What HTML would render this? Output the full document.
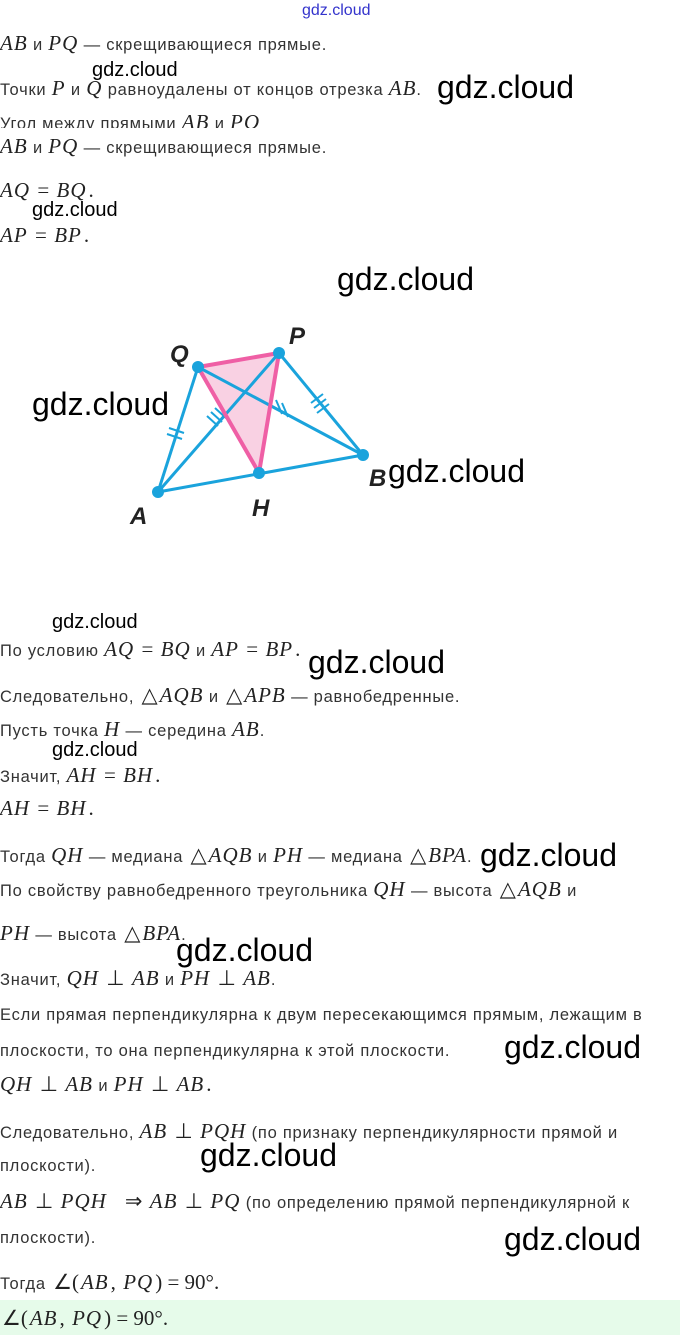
<!DOCTYPE html>
<html><head><meta charset="utf-8"><style>
body{margin:0;width:680px;height:1335px;background:#fff;position:relative;overflow:hidden;font-family:"Liberation Sans",sans-serif;color:#333;}
.l{position:absolute;left:0;font-size:16.5px;letter-spacing:0.75px;white-space:nowrap;line-height:20px;}
.m{font-family:"Liberation Serif",serif;font-style:italic;font-size:21px;color:#222;letter-spacing:1px;}
.n{font-family:"Liberation Serif",serif;font-size:21px;color:#222;letter-spacing:0;margin:0 2px;}
.w{position:absolute;color:#000;font-family:"Liberation Sans",sans-serif;white-space:nowrap;line-height:1;}
.ws{font-size:20px;}
.wb{font-size:32px;}
</style></head><body>
<div class="w" style="left:302px;top:3px;font-size:16px;color:#3333cc;">gdz.cloud</div>
<div class="l" style="top:33px"><span class="m">AB</span> и <span class="m">PQ</span> — скрещивающиеся прямые.</div>
<div class="w ws" style="left:92px;top:60px">gdz.cloud</div>
<div class="l" style="top:78px">Точки <span class="m">P</span> и <span class="m">Q</span> равноудалены от концов отрезка <span class="m">AB</span>.</div>
<div class="w wb" style="left:437px;top:71px">gdz.cloud</div>
<div style="position:absolute;top:110px;left:0;height:18px;overflow:hidden;"><div class="l" style="position:relative;top:2px">Угол между прямыми <span class="m">AB</span> и <span class="m">PQ</span></div></div>
<div class="l" style="top:136px"><span class="m">AB</span> и <span class="m">PQ</span> — скрещивающиеся прямые.</div>
<div class="l" style="top:180px"><span class="m">AQ</span> <span class="n">=</span> <span class="m">BQ</span><span class="n">.</span></div>
<div class="w ws" style="left:32px;top:200px">gdz.cloud</div>
<div class="l" style="top:225px"><span class="m">AP</span> <span class="n">=</span> <span class="m">BP</span><span class="n">.</span></div>
<div class="w wb" style="left:337px;top:263px">gdz.cloud</div>
<div class="w wb" style="left:32px;top:388px">gdz.cloud</div>
<svg style="position:absolute;left:0;top:0" width="680" height="560">
<polygon points="198,367 279,353 259,473" fill="#f7c6dc" opacity="0.8"/>
<g stroke="#1aa3dc" stroke-width="3" fill="none">
<line x1="158" y1="492" x2="198" y2="367"/>
<line x1="158" y1="492" x2="279" y2="353"/>
<line x1="158" y1="492" x2="363" y2="455"/>
<line x1="198" y1="367" x2="363" y2="455"/>
<line x1="279" y1="353" x2="363" y2="455"/>
</g>
<g stroke="#1aa3dc" stroke-width="2">
<line x1="169" y1="428" x2="184" y2="433"/><line x1="167" y1="434" x2="182" y2="439"/>
<line x1="207" y1="416" x2="218" y2="426"/><line x1="211" y1="412" x2="222" y2="422"/><line x1="215" y1="408" x2="226" y2="418"/>
<line x1="276" y1="400" x2="282" y2="414"/><line x1="282" y1="403" x2="288" y2="417"/>
<line x1="311" y1="403" x2="323" y2="394"/><line x1="314" y1="408" x2="326" y2="399"/><line x1="317" y1="413" x2="329" y2="404"/>
</g>
<g stroke="#ef5fa5" stroke-width="4" fill="none">
<line x1="198" y1="367" x2="279" y2="353"/>
<line x1="198" y1="367" x2="259" y2="473"/>
<line x1="279" y1="353" x2="259" y2="473"/>
</g>
<g fill="#1aa3dc">
<circle cx="198" cy="367" r="6"/><circle cx="279" cy="353" r="6"/><circle cx="158" cy="492" r="6"/><circle cx="259" cy="473" r="6"/><circle cx="363" cy="455" r="6"/>
</g>
<g font-family="Liberation Sans,sans-serif" font-weight="bold" font-style="italic" font-size="24" fill="#222">
<text x="170" y="362">Q</text><text x="289" y="344">P</text><text x="130" y="524">A</text><text x="252" y="516">H</text><text x="369" y="486">B</text>
</g>
</svg>
<div class="w wb" style="left:388px;top:455px">gdz.cloud</div>
<div class="w ws" style="left:52px;top:612px">gdz.cloud</div>
<div class="l" style="top:639px">По условию <span class="m">AQ</span> <span class="n">=</span> <span class="m">BQ</span> и <span class="m">AP</span> <span class="n">=</span> <span class="m">BP</span><span class="n">.</span></div>
<div class="w wb" style="left:308px;top:646px">gdz.cloud</div>
<div class="l" style="top:685px">Следовательно, <span class="n">△</span><span class="m">AQB</span> и <span class="n">△</span><span class="m">APB</span> — равнобедренные.</div>
<div class="l" style="top:719px">Пусть точка <span class="m">H</span> — середина <span class="m">AB</span>.</div>
<div class="w ws" style="left:52px;top:740px">gdz.cloud</div>
<div class="l" style="top:765px">Значит, <span class="m">AH</span> <span class="n">=</span> <span class="m">BH</span><span class="n">.</span></div>
<div class="l" style="top:798px"><span class="m">AH</span> <span class="n">=</span> <span class="m">BH</span><span class="n">.</span></div>
<div class="l" style="top:845px">Тогда <span class="m">QH</span> — медиана <span class="n">△</span><span class="m">AQB</span> и <span class="m">PH</span> — медиана <span class="n">△</span><span class="m">BPA</span>.</div>
<div class="w wb" style="left:480px;top:839px">gdz.cloud</div>
<div class="l" style="top:879px">По свойству равнобедренного треугольника <span class="m">QH</span> — высота <span class="n">△</span><span class="m">AQB</span> и</div>
<div class="l" style="top:923px"><span class="m">PH</span> — высота <span class="n">△</span><span class="m">BPA</span>.</div>
<div class="w wb" style="left:176px;top:934px">gdz.cloud</div>
<div class="l" style="top:968px">Значит, <span class="m">QH</span> <span class="n">⊥</span> <span class="m">AB</span> и <span class="m">PH</span> <span class="n">⊥</span> <span class="m">AB</span>.</div>
<div class="l" style="top:1005px">Если прямая перпендикулярна к двум пересекающимся прямым, лежащим в</div>
<div class="l" style="top:1041px">плоскости, то она перпендикулярна к этой плоскости.</div>
<div class="w wb" style="left:504px;top:1031px">gdz.cloud</div>
<div class="l" style="top:1074px"><span class="m">QH</span> <span class="n">⊥</span> <span class="m">AB</span> и <span class="m">PH</span> <span class="n">⊥</span> <span class="m">AB</span><span class="n">.</span></div>
<div class="l" style="top:1121px">Следовательно, <span class="m">AB</span> <span class="n">⊥</span> <span class="m">PQH</span> (по признаку перпендикулярности прямой и</div>
<div class="l" style="top:1156px">плоскости).</div>
<div class="w wb" style="left:200px;top:1139px">gdz.cloud</div>
<div class="l" style="top:1191px"><span class="m">AB</span> <span class="n">⊥</span> <span class="m">PQH</span> &nbsp; <span class="n">⇒</span> <span class="m">AB</span> <span class="n">⊥</span> <span class="m">PQ</span> (по определению прямой перпендикулярной к</div>
<div class="l" style="top:1228px">плоскости).</div>
<div class="w wb" style="left:504px;top:1223px">gdz.cloud</div>
<div class="l" style="top:1272px">Тогда <span class="n">∠(</span><span class="m">AB</span><span class="n">,</span> <span class="m">PQ</span><span class="n">) = 90°.</span></div>
<div style="position:absolute;left:0;top:1300px;width:680px;height:35px;background:#e6fbea;"></div>
<div class="l" style="top:1308px"><span class="n">∠(</span><span class="m">AB</span><span class="n">,</span> <span class="m">PQ</span><span class="n">) = 90°.</span></div>
</body></html>
